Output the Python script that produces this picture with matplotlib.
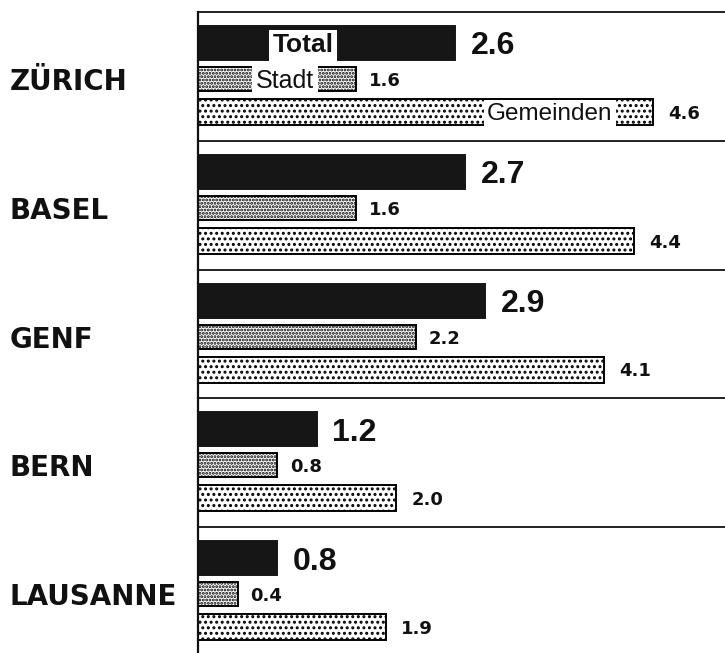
import matplotlib
matplotlib.use("Agg")
import matplotlib.pyplot as plt

# ---- data ----
cities = ["ZÜRICH", "BASEL", "GENF", "BERN", "LAUSANNE"]
total = [2.6, 2.7, 2.9, 1.2, 0.8]
stadt = [1.6, 1.6, 2.2, 0.8, 0.4]
gemeinden = [4.6, 4.4, 4.1, 2.0, 1.9]
series_names = ["Total", "Stadt", "Gemeinden"]

# ---- layout / style ----
LIB = ["Liberation Sans", "DejaVu Sans"]
DJV = ["DejaVu Sans"]
plt.rcParams["hatch.linewidth"] = 1.4
W, H = 725, 653
X0 = 198            # px position of the zero line
PX_PER_UNIT = 99.0
TOP = 12
STEP = 128.75
# (top, bottom) offsets of each bar inside a group, px
bar_rows = [(14, 48), (55, 79), (87, 113)]
styles = [
    dict(color="#161616", edgecolor="#161616", hatch=None),
    dict(color="white", edgecolor="black", hatch="....."),
    dict(color="white", edgecolor="black", hatch="..."),
]
value_fonts = [
    dict(fontsize=23, fontweight="bold", gap=11, family=LIB),
    dict(fontsize=13, fontweight="bold", gap=9, family=DJV),
    dict(fontsize=13, fontweight="bold", gap=11, family=DJV),
]
# inside-bar legend labels (first group), centre x in data units
legend_x = [(303 - X0) / PX_PER_UNIT, (285 - X0) / PX_PER_UNIT, (550 - X0) / PX_PER_UNIT]
legend_font = [dict(fontsize=19, fontweight="bold"),
               dict(fontsize=18, fontweight="normal"),
               dict(fontsize=17.5, fontweight="normal")]

fig = plt.figure(figsize=(W / 100, H / 100), dpi=100)
fig.patch.set_facecolor("white")
ax = fig.add_axes([X0 / W, 0, 1 - X0 / W, 1])
ax.set_xlim(0, (W - X0) / PX_PER_UNIT)
ax.set_ylim(H, 0)
ax.axis("off")

series = [total, stadt, gemeinden]
for gi, city in enumerate(cities):
    gtop = TOP + STEP * gi
    for si, vals in enumerate(series):
        t, b = bar_rows[si]
        yc = gtop + (t + b) / 2
        h = b - t
        st = styles[si]
        ax.barh(yc, vals[gi], height=h, left=0, color=st["color"],
                edgecolor=st["edgecolor"], hatch=st["hatch"], linewidth=1.4, zorder=2)
        vf = value_fonts[si]
        ax.annotate(f"{vals[gi]:.1f}", xy=(vals[gi], yc), xytext=(vf["gap"], 0),
                    textcoords="offset points", va="center_baseline", ha="left",
                    fontsize=vf["fontsize"], fontweight=vf["fontweight"],
                    family=vf["family"], color="#111111", zorder=4)
        if gi == 0:
            ax.text(legend_x[si], yc, series_names[si], ha="center", va="center_baseline",
                    family=LIB, color="#111111", zorder=5,
                    bbox=dict(facecolor="white", edgecolor="none", pad=2.5),
                    **legend_font[si])
    # city label
    yc_city = gtop + (bar_rows[1][0] + bar_rows[1][1]) / 2
    fig.text(10 / W, 1 - yc_city / H, city, ha="left", va="center_baseline",
             fontsize=20, fontweight="bold", family=DJV, color="#111111")
    # separator line (top of group)
    ax.plot([0, 1], [gtop, gtop], transform=ax.get_yaxis_transform(),
            color="#111111", linewidth=1.3, zorder=3, clip_on=False)

# zero line
ax.plot([0, 0], [TOP, H], color="#111111", linewidth=1.6, zorder=3, clip_on=False)

fig.savefig("out.png", dpi=100, facecolor="white")
